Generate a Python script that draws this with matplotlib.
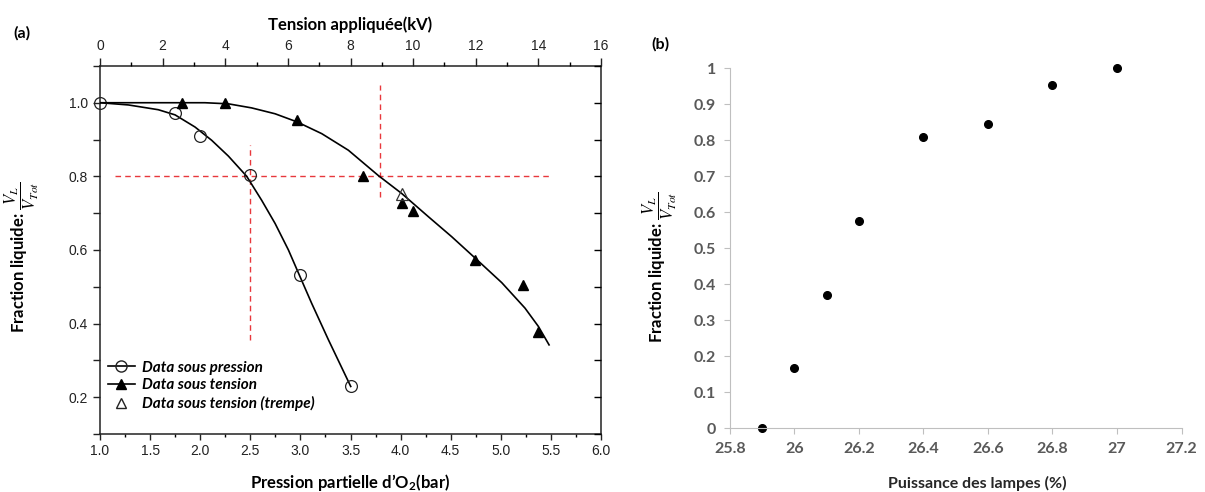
import matplotlib
matplotlib.use("Agg")
import matplotlib.pyplot as plt
from matplotlib.lines import Line2D
from matplotlib.ticker import MultipleLocator, FuncFormatter

plt.rcParams["mathtext.fontset"] = "custom"
plt.rcParams["mathtext.bf"] = "Lato:bold"
plt.rcParams["mathtext.rm"] = "Lato"
plt.rcParams["mathtext.it"] = "Lato:italic"

# ---- (a) data sous pression, bottom axis (bar)
p_o2 = [1.0, 1.75, 2.0, 2.5, 3.0, 3.5]
frac_pression = [1.0, 0.972, 0.910, 0.804, 0.531, 0.229]
# fitted line
p_fit = [1.0, 1.283, 1.582, 1.749, 1.948, 2.114, 2.281, 2.464, 2.613, 2.747,
         2.880, 3.003, 3.112, 3.279, 3.502]
frac_pression_fit = [1.0, 0.994, 0.981, 0.967, 0.934, 0.898, 0.855, 0.800,
                     0.735, 0.672, 0.600, 0.523, 0.455, 0.356, 0.229]

# ---- (a) data sous tension, top axis (kV)
kv = [2.61, 4.0, 6.29, 8.40, 9.64, 10.0, 11.99, 13.5, 13.98]
frac_tension = [1.0, 1.0, 0.952, 0.802, 0.728, 0.706, 0.573, 0.505, 0.378]
kv_trempe = [9.64]
frac_trempe = [0.752]
kv_fit = [0, 1.97, 3.35, 4.10, 4.84, 5.59, 6.29, 7.08, 7.93, 8.89, 9.64,
          10.49, 11.23, 11.99, 12.83, 13.57, 14.0, 14.34]
frac_tension_fit = [1.0, 1.0, 1.0, 0.997, 0.986, 0.970, 0.948, 0.916, 0.871,
                    0.802, 0.753, 0.690, 0.636, 0.577, 0.511, 0.442, 0.392,
                    0.342]

# red guide lines (bar / fraction)
guide_h_x, guide_h_y = [1.15, 5.51], [0.8, 0.8]
guide_v1_x, guide_v1_y = [2.5, 2.5], [0.356, 0.884]
guide_v2_x, guide_v2_y = [3.79, 3.79], [0.743, 1.047]

# ---- (b)
puissance = [25.9, 26.0, 26.1, 26.2, 26.4, 26.6, 26.8, 27.0]
frac_lampes = [0.0, 0.168, 0.370, 0.576, 0.808, 0.845, 0.952, 1.0]

title_font = {"family": "Lato", "weight": "bold"}
frac_label = r"Fraction liquide: $\dfrac{V_L}{V_{Tot}}$"

fig = plt.figure(figsize=(12.05, 4.92), dpi=100)

# ================= panel (a)
ax = fig.add_axes([0.083, 0.118, 0.4158, 0.748])
ax.plot(p_fit, frac_pression_fit, color="black", lw=1.2, zorder=3)
ax.plot(p_o2, frac_pression, ls="none", marker="o", ms=8.5, mfc="none",
        mec="#222222", mew=0.9, zorder=4, clip_on=False)
red = "#e8383d"
for gx, gy in [(guide_h_x, guide_h_y), (guide_v1_x, guide_v1_y),
               (guide_v2_x, guide_v2_y)]:
    ax.plot(gx, gy, color=red, lw=1.0, ls=(0, (4, 3)), zorder=2, clip_on=False)

ax.set_xlim(1.0, 6.0)
ax.set_ylim(0.1, 1.1)
ax.xaxis.set_major_locator(MultipleLocator(0.5))
ax.xaxis.set_minor_locator(MultipleLocator(0.25))
ax.yaxis.set_major_locator(MultipleLocator(0.2))
ax.yaxis.set_minor_locator(MultipleLocator(0.1))
ax.xaxis.set_major_formatter(FuncFormatter(lambda v, p: f"{v:.1f}"))
ax.yaxis.set_major_formatter(FuncFormatter(lambda v, p: f"{v:.1f}"))
ax.tick_params(axis="x", which="major", direction="out", length=4, width=1,
               labelsize=10, pad=3, labelfontfamily="Liberation Sans",
               colors="#222222")
ax.tick_params(axis="x", which="minor", direction="out", length=2.5, width=1)
ax.tick_params(axis="y", which="both", direction="out", length=5, width=1,
               labelsize=10, labelfontfamily="Liberation Sans",
               colors="#222222", right=False)
for s in ax.spines.values():
    s.set_linewidth(1.1)
    s.set_color("#222222")
ax.set_xlabel("Pression partielle d’O$_\\mathbf{2}$(bar)", fontsize=12,
              labelpad=10, math_fontfamily="custom", **title_font)
ax.set_ylabel(frac_label, fontsize=12, math_fontfamily="stix", va="center",
              **title_font)
ax.yaxis.set_label_coords(-0.156, 0.48)

# right-side inward ticks
axr = ax.twinx()
axr.set_ylim(0.1, 1.1)
axr.yaxis.set_major_locator(MultipleLocator(0.2))
axr.yaxis.set_minor_locator(MultipleLocator(0.1))
axr.tick_params(axis="y", which="both", direction="in", length=5, width=1,
                labelright=False)
axr.spines[:].set_visible(False)

# top axis in kV
axt = ax.twiny()
axt.set_xlim(0, 16)
axt.set_ylim(0.1, 1.1)
axt.plot(kv_fit, frac_tension_fit, color="black", lw=1.2, zorder=3)
axt.plot(kv, frac_tension, ls="none", marker="^", ms=7.5, color="black",
         zorder=4)
axt.plot(kv_trempe, frac_trempe, ls="none", marker="^", ms=8.5, mfc="none",
         mec="#333333", mew=0.9, zorder=5)
axt.xaxis.set_major_locator(MultipleLocator(2))
axt.xaxis.set_minor_locator(MultipleLocator(1))
axt.tick_params(axis="x", which="major", direction="out", length=6, width=1,
                labelsize=10, pad=3, labelfontfamily="Liberation Sans",
                colors="#222222")
axt.tick_params(axis="x", which="minor", direction="out", length=3, width=1)
axt.spines[:].set_visible(False)
axt.set_xlabel("Tension appliquée(kV)", fontsize=12, labelpad=7, **title_font)

handles = [
    Line2D([], [], color="black", lw=1.2, marker="o", ms=8, mfc="none",
           mec="#222222"),
    Line2D([], [], color="black", lw=1.2, marker="^", ms=7.5),
    Line2D([], [], ls="none", marker="^", ms=7.5, mfc="none", mec="#222222"),
]
labels = ["Data sous pression", "Data sous tension", "Data sous tension (trempe)"]
ax.legend(handles, labels, loc="lower left", bbox_to_anchor=(0.0, 0.041),
          borderaxespad=0.1, frameon=False, handlelength=1.8,
          handletextpad=0.45, labelspacing=0.25,
          prop={"family": "Lato", "weight": "bold", "style": "italic",
                "size": 11})

fig.text(0.018, 0.933, "(a)", fontsize=11.5, ha="center", va="center",
         **title_font)

# ================= panel (b)
bx = fig.add_axes([0.6058, 0.130, 0.3747, 0.7317])
bx.plot(puissance, frac_lampes, ls="none", marker="o", ms=5.5, color="black",
        clip_on=False)
bx.set_xlim(25.8, 27.2)
bx.set_ylim(0, 1)
bx.xaxis.set_major_locator(MultipleLocator(0.2))
bx.yaxis.set_major_locator(MultipleLocator(0.1))
bx.xaxis.set_major_formatter(FuncFormatter(lambda v, p: f"{round(v, 1):g}"))
bx.yaxis.set_major_formatter(FuncFormatter(lambda v, p: f"{round(v, 1):g}"))
grey = "#bfbfbf"
bx.spines[["top", "right"]].set_visible(False)
bx.spines[["left", "bottom"]].set_color(grey)
bx.spines[["left", "bottom"]].set_linewidth(0.8)
bx.tick_params(axis="both", direction="out", length=4, width=0.8, color=grey,
               labelcolor="#595959", labelsize=11.5, pad=6,
               labelfontfamily="Lato")
for t in bx.get_xticklabels() + bx.get_yticklabels():
    t.set_fontweight("bold")
bx.set_xlabel("Puissance des lampes (%)", fontsize=11.5, color="#262626",
              va="center", **title_font)
bx.xaxis.set_label_coords(0.547, -0.153)
bx.set_ylabel(frac_label, fontsize=12, math_fontfamily="stix", va="center",
              **title_font)
bx.yaxis.set_label_coords(-0.155, 0.447)

fig.text(0.548, 0.909, "(b)", fontsize=11.5, ha="center", va="center",
         **title_font)

fig.savefig("out.png", dpi=100)
